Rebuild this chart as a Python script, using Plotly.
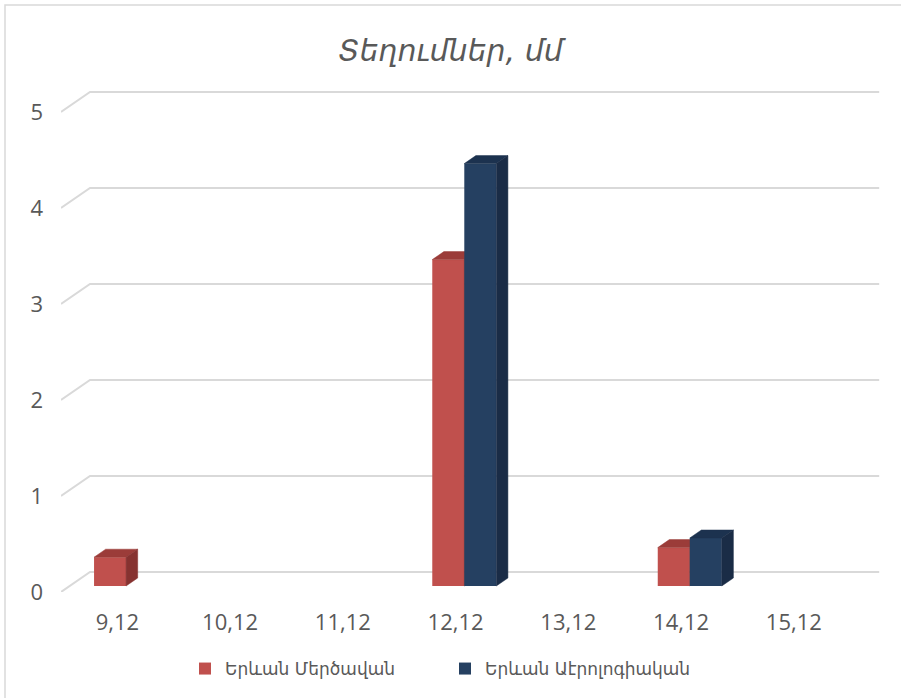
import plotly.graph_objects as go

# ---- data ----
categories = ["9,12", "10,12", "11,12", "12,12", "13,12", "14,12", "15,12"]
series_names = ["Երևան Մերծավան", "Երևան Աէրոլոգիական"]
merdzavan = [0.3, None, None, 3.4, None, 0.4, None]
aerological = [None, None, None, 4.4, None, 0.5, None]
y_ticks = [0, 1, 2, 3, 4, 5]
title_text = "Տեղումներ, մմ"

# ---- style ----
RED = dict(front="#c0504d", top="#9b3c39", side="#863230")
BLUE = dict(front="#254061", top="#1c324f", side="#1a2c46")
GRID = "#d9d9d9"
TXT = "#595959"
W, H = 901, 698
DX, DY = 0.2573, 0.2083          # depth of the 3-D box in axis units
FSX, FSY = 0.3 * DX, 0.3 * DY    # front plane of the bars
BDX, BDY = 0.4 * DX, 0.4 * DY    # depth of the bars
BW = 0.284                       # bar width (category units)
XR = [-0.5, 6.8]
YR = [0, 5.25]

xs = list(range(len(categories)))

fig = go.Figure()


def add_series(vals, name, col, offset, xa, ya):
    fig.add_trace(go.Bar(
        x=[i + FSX for i in xs], y=vals, base=FSY, width=BW, offset=offset,
        name=name, marker=dict(color=col["front"], line=dict(width=0)),
        xaxis=xa, yaxis=ya, hoverinfo="skip"))
    tx, ty, sx, sy = [], [], [], []
    for i, v in zip(xs, vals):
        if v is None:
            continue
        x0 = i + FSX + offset
        x1 = x0 + BW
        T = v + FSY
        tx += [x0, x1, x1 + BDX, x0 + BDX, x0, None]
        ty += [T, T, T + BDY, T + BDY, T, None]
        sx += [x1, x1, x1 + BDX, x1 + BDX, x1, None]
        sy += [FSY, T, T + BDY, FSY + BDY, FSY, None]
    for px, py, c in [(tx, ty, col["top"]), (sx, sy, col["side"])]:
        fig.add_trace(go.Scatter(
            x=px, y=py, mode="lines", fill="toself", fillcolor=c,
            line=dict(color=c, width=0.5), showlegend=False,
            hoverinfo="skip", xaxis=xa, yaxis=ya))


add_series(merdzavan, series_names[0], RED, -BW, "x", "y")
add_series(aerological, series_names[1], BLUE, 0.0, "x2", "y2")

# perspective gridlines (left wall diagonal + back wall line)
shapes = []
for v in y_ticks:
    shapes.append(dict(
        type="path", xref="x", yref="y", layer="below",
        path=f"M {XR[0]},{v} L {XR[0] + DX},{v + DY} L {len(categories) - 0.5 + DX},{v + DY}",
        line=dict(color=GRID, width=2)))

# chart border
L, R, T, B = 61, 17, 88, 106
pw, ph = W - L - R, H - T - B
shapes.append(dict(type="rect", xref="paper", yref="paper", layer="below",
                   x0=(5 - L) / pw, x1=(W + 20 - L) / pw,
                   y0=(H - B - (H + 20)) / ph, y1=(H - B - 5) / ph,
                   line=dict(color=GRID, width=1.5), fillcolor="rgba(0,0,0,0)"))

fig.update_layout(
    width=W, height=H,
    margin=dict(l=L, r=R, t=T, b=B),
    paper_bgcolor="white", plot_bgcolor="white",
    barmode="overlay",
    shapes=shapes,
    title=dict(text=title_text, x=0.5, xanchor="center", xref="container",
               y=1 - 50 / H, yref="container", yanchor="middle",
               font=dict(family="DejaVu Sans", size=30, color=TXT, style="italic")),
    font=dict(family="Open Sans, DejaVu Sans", color=TXT),
    xaxis=dict(range=XR, tickmode="array", tickvals=xs, ticktext=categories,
               showgrid=False, zeroline=False, showline=False, ticks="",
               ticklabelstandoff=15, tickfont=dict(size=22, color=TXT),
               fixedrange=True),
    yaxis=dict(range=YR, tickmode="array", tickvals=y_ticks,
               ticktext=[str(t) for t in y_ticks],
               showgrid=False, zeroline=False, showline=False, ticks="",
               ticklabelstandoff=17, tickfont=dict(size=22, color=TXT),
               fixedrange=True),
    xaxis2=dict(range=XR, overlaying="x", visible=False, fixedrange=True),
    yaxis2=dict(range=YR, overlaying="y", visible=False, fixedrange=True),
    legend=dict(orientation="h", xref="container", yref="container",
                x=185 / W, xanchor="left", y=1 - 669 / H, yanchor="middle",
                font=dict(family="DejaVu Sans", size=17, color=TXT),
                entrywidth=215, itemwidth=30, bgcolor="rgba(0,0,0,0)"),
    showlegend=True,
)

fig.write_html("out.html",
               config={"displayModeBar": False},
               post_script="document.body.style.margin='0';"
                           "document.body.style.overflow='hidden';")
